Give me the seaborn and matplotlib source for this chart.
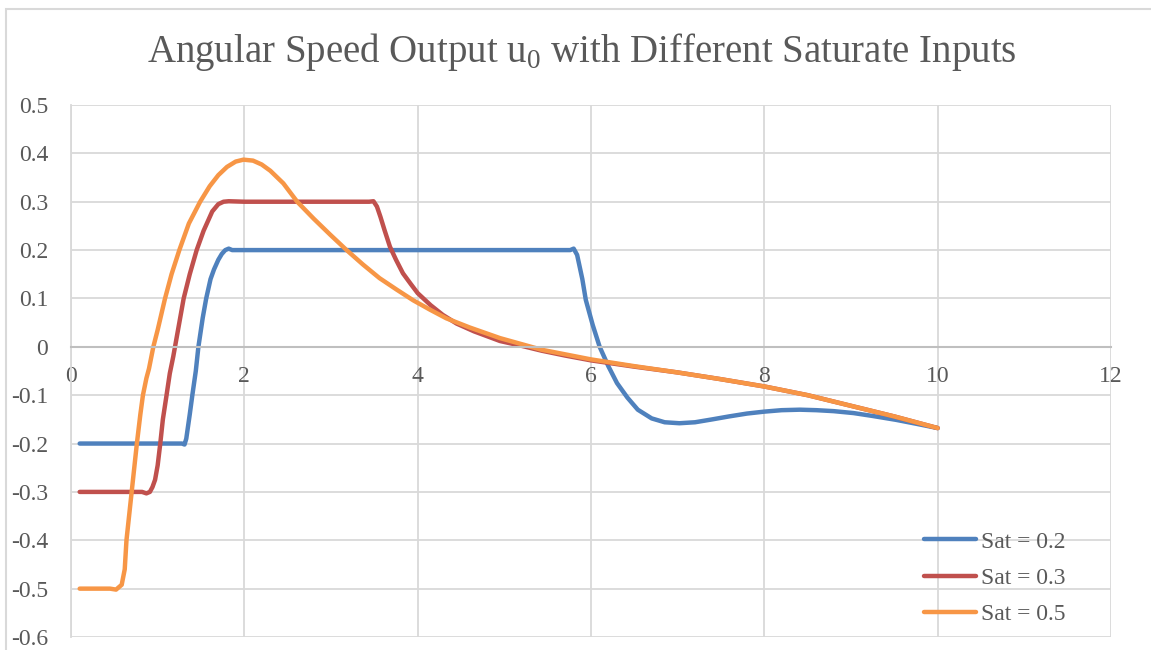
import matplotlib
matplotlib.use("Agg")
import matplotlib.pyplot as plt
from matplotlib.patches import Rectangle
import seaborn as sns
import pandas as pd

# ---- data ----
x_sat02 = [0.1, 0.5, 1.0, 1.28, 1.31, 1.33, 1.37, 1.40, 1.44, 1.47, 1.52, 1.56, 1.61, 1.65, 1.70,
           1.74, 1.78, 1.82, 1.86, 2.0, 3.0, 4.0, 5.0, 5.5, 5.76, 5.80, 5.84, 5.90, 5.94, 6.02,
           6.10, 6.20, 6.30, 6.42, 6.54, 6.70, 6.85, 7.02, 7.2, 7.4, 7.59, 7.8, 8.0, 8.2, 8.41,
           8.6, 8.8, 9.03, 9.25, 9.52, 9.75, 10.0]
y_sat02 = [-0.2, -0.2, -0.2, -0.2, -0.202, -0.19, -0.14, -0.1, -0.05, 0.0, 0.06, 0.1, 0.14, 0.16, 0.18,
           0.192, 0.2, 0.203, 0.2, 0.2, 0.2, 0.2, 0.2, 0.2, 0.2, 0.203, 0.19, 0.14, 0.097, 0.045,
           0.0, -0.04, -0.075, -0.105, -0.13, -0.148, -0.156, -0.158, -0.156, -0.150, -0.144, -0.138, -0.134, -0.131, -0.130,
           -0.131, -0.133, -0.137, -0.143, -0.151, -0.159, -0.168]

x_sat03 = [0.1, 0.5, 0.82, 0.87, 0.91, 0.94, 0.97, 1.0, 1.03, 1.06, 1.10, 1.14, 1.18, 1.24, 1.30, 1.37,
           1.45, 1.53, 1.63, 1.70, 1.76, 1.82, 2.0, 2.5, 3.0, 3.44, 3.49, 3.53, 3.57, 3.62, 3.68,
           3.75, 3.83, 3.92, 4.0, 4.15, 4.29, 4.45, 4.65, 4.95, 5.2, 5.43, 5.7, 6.0, 6.5, 7.0,
           7.5, 8.0, 8.5, 9.0, 9.5, 10.0]
y_sat03 = [-0.3, -0.3, -0.3, -0.303, -0.300, -0.29, -0.275, -0.245, -0.2, -0.15, -0.103, -0.055, -0.02, 0.04, 0.1, 0.15,
           0.2, 0.24, 0.28, 0.295, 0.3, 0.301, 0.3, 0.3, 0.3, 0.3, 0.301, 0.29, 0.269, 0.24, 0.207,
           0.18, 0.152, 0.13, 0.111, 0.086, 0.066, 0.048, 0.032, 0.012, 0.002, -0.008, -0.018, -0.028, -0.041, -0.053,
           -0.067, -0.082, -0.100, -0.122, -0.144, -0.168]

x_sat05 = [0.1, 0.3, 0.45, 0.52, 0.585, 0.62, 0.64, 0.67, 0.70, 0.73, 0.76, 0.80, 0.83, 0.87, 0.90,
           0.95, 1.0, 1.085, 1.16, 1.25, 1.36, 1.49, 1.6, 1.7, 1.8, 1.9, 1.99, 2.1, 2.2, 2.3,
           2.45, 2.61, 2.8, 2.99, 3.18, 3.37, 3.56, 3.76, 3.95, 4.14, 4.33, 4.6, 4.95, 5.43, 6.0,
           6.5, 7.0, 7.5, 8.0, 8.5, 9.0, 9.5, 10.0]
y_sat05 = [-0.5, -0.5, -0.5, -0.502, -0.492, -0.46, -0.4, -0.35, -0.3, -0.25, -0.2, -0.14, -0.1, -0.065, -0.045,
           0.0, 0.035, 0.1, 0.15, 0.2, 0.255, 0.3, 0.332, 0.355, 0.372, 0.383, 0.387, 0.385, 0.377, 0.364,
           0.338, 0.3, 0.265, 0.232, 0.2, 0.17, 0.142, 0.118, 0.096, 0.077, 0.059, 0.04, 0.018, -0.006, -0.026,
           -0.040, -0.053, -0.067, -0.082, -0.100, -0.122, -0.144, -0.168]

series_labels = ["Sat = 0.2", "Sat = 0.3", "Sat = 0.5"]
series_colors = ["#4F81BD", "#C0504D", "#F79646"]
x_ticks = [0, 2, 4, 6, 8, 10, 12]
y_ticks = [-0.6, -0.5, -0.4, -0.3, -0.2, -0.1, 0, 0.1, 0.2, 0.3, 0.4, 0.5]
title_text = "Angular Speed Output u$_\\mathregular{0}$ with Different Saturate Inputs"

frames = []
for lab, xs, ys in zip(series_labels, [x_sat02, x_sat03, x_sat05], [y_sat02, y_sat03, y_sat05]):
    frames.append(pd.DataFrame({"t": xs, "u": ys, "series": lab}))
df = pd.concat(frames, ignore_index=True)

# ---- style ----
sns.set_style("white")
plt.rcParams["font.family"] = ["Liberation Serif", "DejaVu Serif"]
text_color = "#595959"
grid_color = "#d9d9d9"

fig = plt.figure(figsize=(11.51, 6.5), dpi=100)
ax = fig.add_axes([71 / 1151, 13 / 650, 1040 / 1151, 532 / 650])

sns.lineplot(data=df, x="t", y="u", hue="series", hue_order=series_labels,
             palette=series_colors, estimator=None, sort=False, linewidth=3.2,
             ax=ax, legend=True)
for ln in ax.lines:
    ln.set_solid_capstyle("round")
    ln.set_solid_joinstyle("round")

ax.set_xlim(0, 12)
ax.set_ylim(-0.6, 0.5)
ax.set_xticks(x_ticks)
ax.set_yticks(y_ticks)
ax.set_xticklabels([str(v) for v in x_ticks])
ax.set_yticklabels([f"{v:g}" for v in y_ticks])
ax.set_xlabel("")
ax.set_ylabel("")
ax.grid(True, color=grid_color, linewidth=1.3)
ax.set_axisbelow(True)
for s in ["top", "right"]:
    ax.spines[s].set_visible(False)
ax.spines["left"].set_color(grid_color)
ax.spines["left"].set_linewidth(1.3)
ax.spines["bottom"].set_position(("data", 0))
ax.spines["bottom"].set_color("#bfbfbf")
ax.spines["bottom"].set_linewidth(1.5)
ax.tick_params(axis="both", length=0, labelsize=17, labelcolor=text_color)
ax.tick_params(axis="y", pad=16.5)
ax.tick_params(axis="x", pad=14)

handles, labels = ax.get_legend_handles_labels()
leg = ax.legend(handles, labels, loc="lower left",
                bbox_to_anchor=(924 / 1151, 1 - 625 / 650), bbox_transform=fig.transFigure,
                frameon=False, fontsize=17, handlelength=2.2, handletextpad=0.2,
                labelspacing=0.62, borderpad=0, borderaxespad=0)
for t in leg.get_texts():
    t.set_color(text_color)
for h in leg.legend_handles:
    h.set_linewidth(3.2)
    h.set_solid_capstyle("round")

fig.text(582 / 1151, 1 - 52 / 650, title_text, ha="center", va="center",
         fontsize=28, color=text_color)

fig.patches.append(Rectangle((6 / 1151, -0.1), 1.2, 1 - 9 / 650 + 0.1, transform=fig.transFigure,
                             fill=False, edgecolor=grid_color, linewidth=1.5))

fig.savefig("out.png", dpi=100)
